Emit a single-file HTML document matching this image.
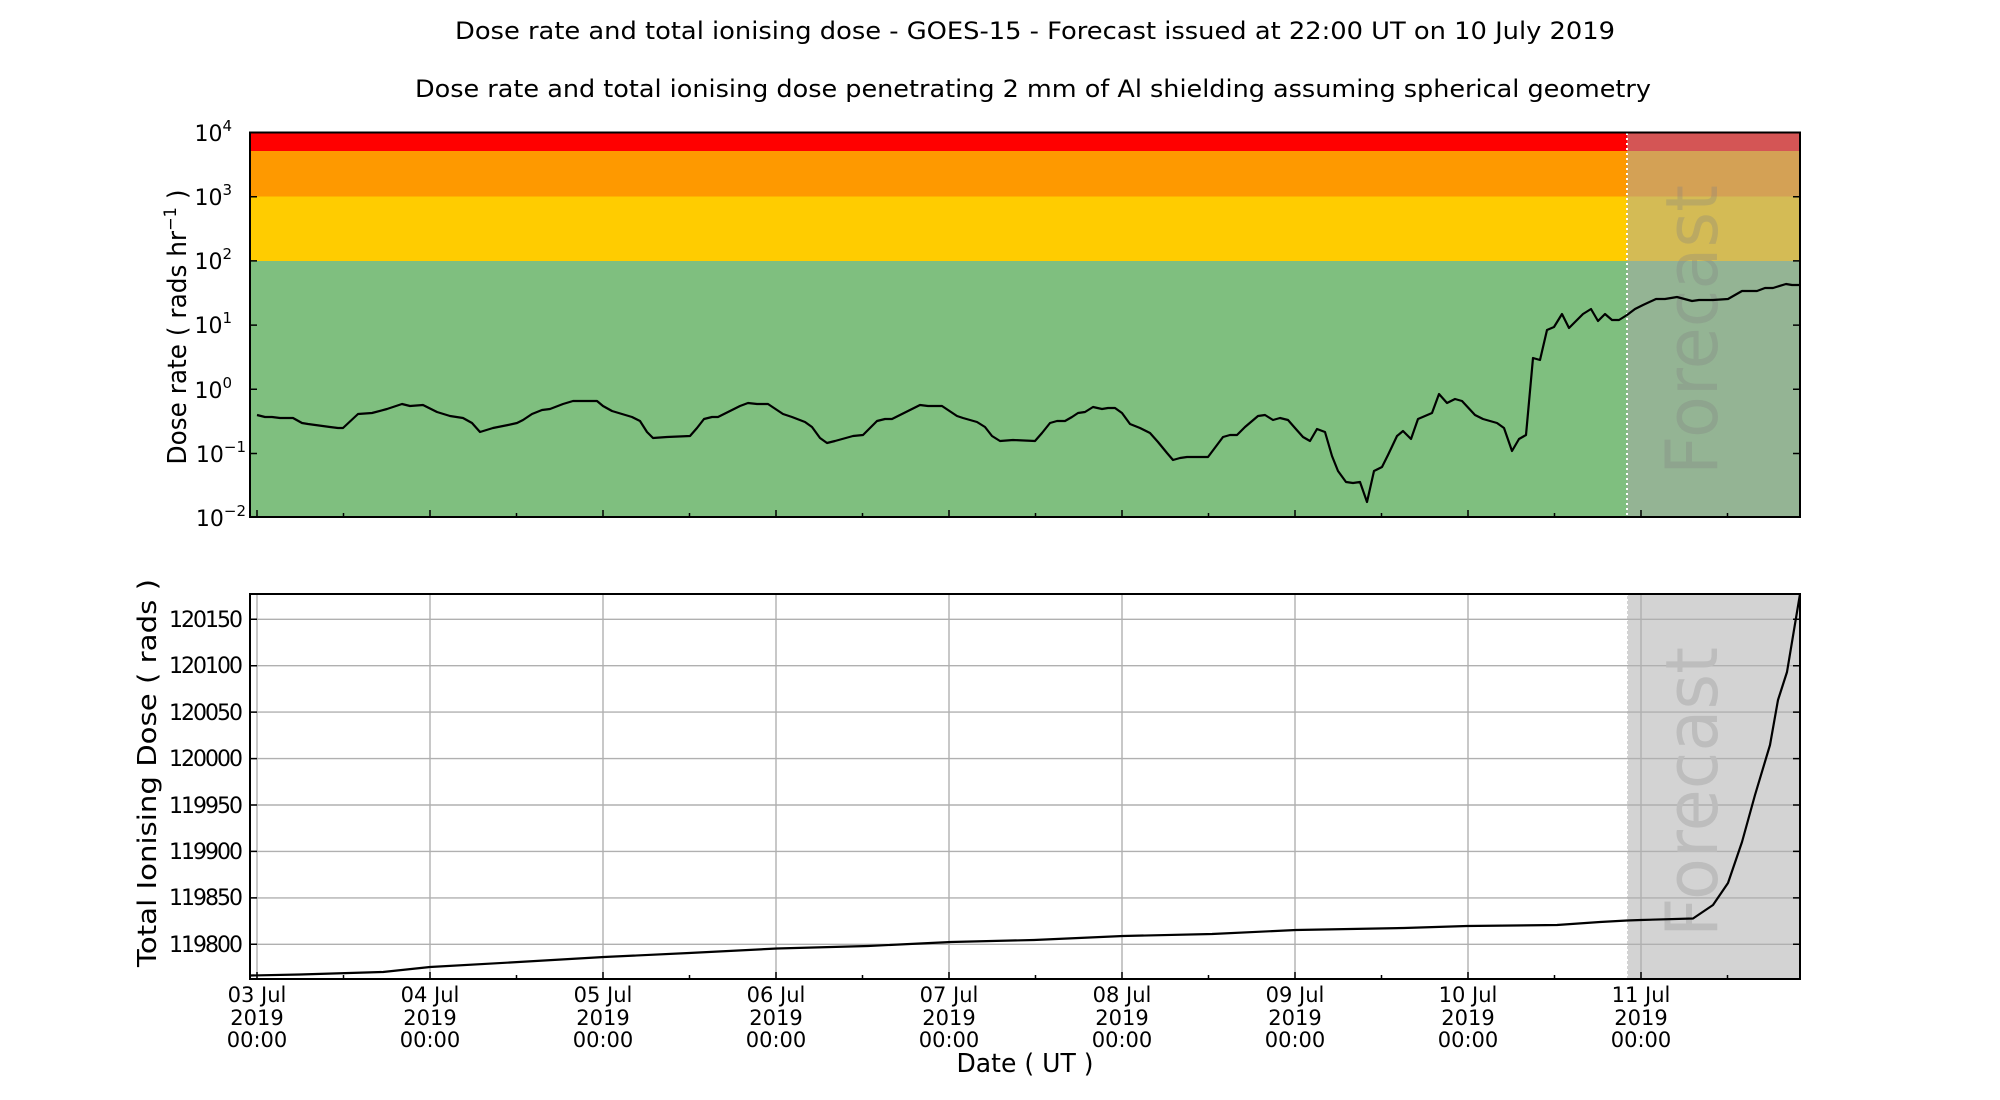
<!DOCTYPE html>
<html><head><meta charset="utf-8"><style>html,body{margin:0;padding:0;background:#fff}svg{display:block}text{font-family:"DejaVu Sans","Liberation Sans",sans-serif;fill:#000}</style></head><body>
<svg width="2000" height="1100" viewBox="0 0 2000 1100" xmlns="http://www.w3.org/2000/svg">
<text x="1035" y="39" font-size="24" text-anchor="middle" textLength="1160" lengthAdjust="spacingAndGlyphs">Dose rate and total ionising dose - GOES-15 - Forecast issued at 22:00 UT on 10 July 2019</text>
<text x="1033" y="97" font-size="24" text-anchor="middle" textLength="1236" lengthAdjust="spacingAndGlyphs">Dose rate and total ionising dose penetrating 2 mm of Al shielding assuming spherical geometry</text>

<rect x="250" y="132.5" width="1550" height="18.5" fill="#ff0000"/>
<rect x="250" y="151" width="1550" height="45.5" fill="#fe9900"/>
<rect x="250" y="196.5" width="1550" height="64.5" fill="#ffcc00"/>
<rect x="250" y="261" width="1550" height="256" fill="#7fbf7f"/>
<rect x="1627" y="132.5" width="173" height="384.5" fill="#a9a9a9" opacity="0.5"/>
<line x1="1627" y1="133" x2="1627" y2="517" stroke="#fff" stroke-width="2" stroke-dasharray="2,3"/>
<text transform="translate(1717,330) rotate(-90)" font-size="72" text-anchor="middle" style="fill:#808080" fill-opacity="0.3" textLength="290" lengthAdjust="spacingAndGlyphs">Forecast</text>
<polyline fill="none" stroke="#000" stroke-width="2.2" stroke-linejoin="round" points="257,415 265,417 272,417 280,418 293,418 302,423 308,424 330,427 338,428 343,428 358,414 372,413 387,409 402,404 410,406 423,405 437,412 450,416 463,418 472,423 480,432 493,428 508,425 517,423 523,420 532,414 542,410 550,409 563,404 573,401 583,401 597,401 603,406 612,411 632,417 640,421 647,432 653,438 667,437 690,436 697,428 704,419 712,417 718,417 728,412 740,406 748,403 757,404 768,404 783,414 792,417 805,422 812,427 820,438 827,443 835,441 853,436 863,435 877,421 885,419 892,419 900,415 912,409 920,405 928,406 942,406 957,416 963,418 977,422 985,427 992,436 1000,441 1013,440 1035,441 1042,433 1050,423 1057,421 1065,421 1072,417 1078,413 1085,412 1093,407 1102,409 1108,408 1115,408 1122,413 1130,424 1140,428 1150,433 1158,442 1167,453 1173,460 1180,458 1187,457 1202,457 1208,457 1223,437 1230,435 1237,435 1245,427 1258,416 1265,415 1273,420 1280,418 1288,420 1295,428 1303,437 1310,441 1317,429 1325,432 1332,456 1338,471 1346,482 1353,483 1360,482 1367,502 1374,471 1382,467 1388,455 1397,436 1403,431 1411,439 1418,419 1432,413 1439,394 1447,403 1455,399 1462,401 1475,415 1483,419 1497,423 1504,428 1512,451 1519,439 1526,435 1533,358 1540,360 1547,330 1554,327 1562,314 1569,328 1577,320 1583,314 1591,309 1598,321 1605,314 1612,320 1619,320 1627,315 1635,309 1643,305 1656,299 1665,299 1677,297 1692,301 1699,300 1713,300 1728,299 1742,291 1757,291 1765,288 1773,288 1786,284 1792,285 1800,285"/>
<g stroke="#000" stroke-width="1.5">
<path d="M257,517v-7M430,517v-7M603,517v-7M776,517v-7M949,517v-7M1122,517v-7M1295,517v-7M1468,517v-7M1641,517v-7"/>
<path d="M343.5,517v-4M516.5,517v-4M689.5,517v-4M862.5,517v-4M1035.5,517v-4M1208.5,517v-4M1381.5,517v-4M1554.5,517v-4M1727.5,517v-4"/>
<path d="M250,132.5h7M250,196.7h7M250,260.9h7M250,325.1h7M250,389.3h7M250,453.5h7M250,517h7M1800,132.5h-7M1800,196.7h-7M1800,260.9h-7M1800,325.1h-7M1800,389.3h-7M1800,453.5h-7"/>
</g>
<rect x="250" y="132.5" width="1550" height="384.5" fill="none" stroke="#000" stroke-width="2"/>
<g font-size="22" text-anchor="end">
<text x="232" y="141">10<tspan font-size="15" dy="-10">4</tspan></text>
<text x="232" y="205">10<tspan font-size="15" dy="-10">3</tspan></text>
<text x="232" y="269">10<tspan font-size="15" dy="-10">2</tspan></text>
<text x="232" y="333">10<tspan font-size="15" dy="-10">1</tspan></text>
<text x="232" y="398">10<tspan font-size="15" dy="-10">0</tspan></text>
<text x="246" y="462">10<tspan font-size="15" dy="-10">−1</tspan></text>
<text x="246" y="526">10<tspan font-size="15" dy="-10">−2</tspan></text>
</g>
<text transform="translate(186,327) rotate(-90)" font-size="26" text-anchor="middle" textLength="275" lengthAdjust="spacingAndGlyphs">Dose rate ( rads hr<tspan font-size="17" dy="-10">−1</tspan><tspan dy="10"> )</tspan></text>

<rect x="1627" y="594" width="173" height="385" fill="#d3d3d3"/>
<line x1="1627" y1="594" x2="1627" y2="979" stroke="#fff" stroke-width="2" stroke-dasharray="2,3"/>
<g stroke="#b0b0b0" stroke-width="1.4">
<path d="M257,594V979M430,594V979M603,594V979M776,594V979M949,594V979M1122,594V979M1295,594V979M1468,594V979M1641,594V979"/>
<path d="M250,944.3H1800M250,897.9H1800M250,851.4H1800M250,805H1800M250,758.6H1800M250,712.1H1800M250,665.7H1800M250,619.3H1800"/>
</g>
<text transform="translate(1717,792) rotate(-90)" font-size="72" text-anchor="middle" style="fill:#bdbdbd" textLength="290" lengthAdjust="spacingAndGlyphs">Forecast</text>
<polyline fill="none" stroke="#000" stroke-width="2.2" stroke-linejoin="round" points="250,975.5 300,974.5 383,972 430,967 510,962.5 604,957 689,953 777,948.5 868,946 951,942 1034,940 1123,936 1212,934 1296,930 1404,928 1467,926 1557,925 1600,922 1627,920.5 1641,920 1693,918.5 1713,905 1728,883 1742,842 1755,795 1770,745 1778,700 1787,672 1800,594"/>
<g stroke="#000" stroke-width="1.5">
<path d="M257,979v-7M430,979v-7M603,979v-7M776,979v-7M949,979v-7M1122,979v-7M1295,979v-7M1468,979v-7M1641,979v-7"/>
<path d="M343.5,979v-4M516.5,979v-4M689.5,979v-4M862.5,979v-4M1035.5,979v-4M1208.5,979v-4M1381.5,979v-4M1554.5,979v-4M1727.5,979v-4"/>
<path d="M250,944.3h7M250,897.9h7M250,851.4h7M250,805h7M250,758.6h7M250,712.1h7M250,665.7h7M250,619.3h7M1800,944.3h-7M1800,897.9h-7M1800,851.4h-7M1800,805h-7M1800,758.6h-7M1800,712.1h-7M1800,665.7h-7M1800,619.3h-7"/>
</g>
<rect x="250" y="594" width="1550" height="385" fill="none" stroke="#000" stroke-width="2"/>
<g font-size="22" text-anchor="end">
<text x="243" y="952" textLength="74">119800</text><text x="243" y="905" textLength="74">119850</text><text x="243" y="859" textLength="74">119900</text><text x="243" y="813" textLength="74">119950</text>
<text x="243" y="766" textLength="74">120000</text><text x="243" y="720" textLength="74">120050</text><text x="243" y="673" textLength="74">120100</text><text x="243" y="627" textLength="74">120150</text>
</g>
<text transform="translate(156,773) rotate(-90)" font-size="26" text-anchor="middle" textLength="388" lengthAdjust="spacingAndGlyphs">Total Ionising Dose ( rads )</text>
<g font-size="21" text-anchor="middle">
<text x="257" y="1002">03 Jul</text><text x="257" y="1025">2019</text><text x="257" y="1047">00:00</text>
<text x="430" y="1002">04 Jul</text><text x="430" y="1025">2019</text><text x="430" y="1047">00:00</text>
<text x="603" y="1002">05 Jul</text><text x="603" y="1025">2019</text><text x="603" y="1047">00:00</text>
<text x="776" y="1002">06 Jul</text><text x="776" y="1025">2019</text><text x="776" y="1047">00:00</text>
<text x="949" y="1002">07 Jul</text><text x="949" y="1025">2019</text><text x="949" y="1047">00:00</text>
<text x="1122" y="1002">08 Jul</text><text x="1122" y="1025">2019</text><text x="1122" y="1047">00:00</text>
<text x="1295" y="1002">09 Jul</text><text x="1295" y="1025">2019</text><text x="1295" y="1047">00:00</text>
<text x="1468" y="1002">10 Jul</text><text x="1468" y="1025">2019</text><text x="1468" y="1047">00:00</text>
<text x="1641" y="1002">11 Jul</text><text x="1641" y="1025">2019</text><text x="1641" y="1047">00:00</text>
</g>
<text x="1025" y="1072" font-size="26" text-anchor="middle" textLength="137" lengthAdjust="spacingAndGlyphs">Date ( UT )</text>
</svg>
</body></html>
